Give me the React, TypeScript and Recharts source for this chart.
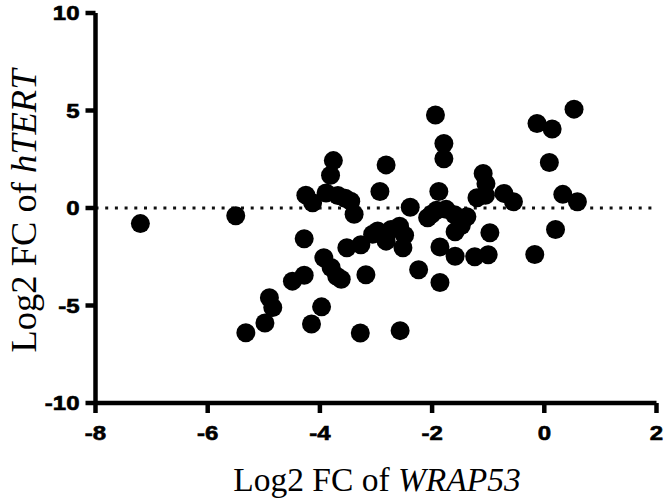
import React from 'react';
import { ScatterChart, Scatter, XAxis, YAxis, ReferenceLine, Label } from 'recharts';

const xTicks = [-8, -6, -4, -2, 0, 2];
const yTicks = [-10, -5, 0, 5, 10];

const wrap53 = [
  -7.2, -5.5, -5.32, -4.98, -4.9, -4.84, -4.49, -4.28, -4.28, -4.25,
  -4.13, -4.15, -3.97, -3.93, -3.8, -3.7, -3.62, -3.89, -3.76, -3.81,
  -3.68, -3.55, -3.45, -3.39, -3.52, -3.28, -3.18, -3.27, -3.06, -2.97,
  -2.82, -2.82, -2.93, -2.73, -2.58, -2.49, -2.52, -2.39, -2.57, -2.24,
  -2.08, -1.94, -1.79, -1.79, -1.88, -2.01, -1.92, -1.75, -1.6, -1.38,
  -1.48, -1.59, -1.86, -1.59, -1.24, -1.0, -0.97, -1.86, -1.2, -1.05,
  -1.04, -1.09, -0.72, -0.55, -0.13, 0.14, 0.53, 0.09, 0.33, 0.59,
  0.2, -0.17,
];
const hTERT = [
  -0.8, -0.4, -6.4, -5.9, -4.6, -5.1, -3.75, -3.45, -1.58, 0.66,
  0.27, -5.95, -5.07, -2.55, -3.05, -3.5, -3.65, 0.77, 2.43, 1.68,
  0.64, 0.5, 0.35, -0.32, -2.04, -6.41, -3.42, -1.88, -1.35, -1.18,
  -1.7, 2.21, 0.85, -1.1, -0.93, -1.4, -2.04, 0.04, -6.29, -3.17,
  -0.5, 4.77, 3.31, 2.53, 0.85, -0.32, -0.12, -0.07, -0.35, -0.45,
  -0.9, -1.22, -2.0, -2.47, -2.5, -2.4, -1.27, -3.82, 0.53, 0.65,
  1.25, 1.77, 0.75, 0.32, 4.33, 4.05, 5.07, 2.33, 0.7, 0.32,
  -1.1, -2.38,
];

const data = wrap53.map((x, i) => ({ x, y: hTERT[i] }));

const tickFont = "'Liberation Sans', Arial, sans-serif";
const titleFont = "'Liberation Serif', 'Times New Roman', serif";

const XTick = (props: any) => {
  const { x, y, payload } = props;
  return (
    <g transform={`translate(${x},${y}) scale(1.2,1)`}>
      <text x={0} y={0} dy="0.36em" textAnchor="middle" fontFamily={tickFont} fontWeight="bold" fontSize={20} fill="#000" stroke="#000" strokeWidth={0.6}>
        {payload.value}
      </text>
    </g>
  );
};

const YTick = (props: any) => {
  const { x, y, payload } = props;
  return (
    <g transform={`translate(${x},${y}) scale(1.2,1)`}>
      <text x={0} y={0} dy="0.36em" textAnchor="end" fontFamily={tickFont} fontWeight="bold" fontSize={20} fill="#000" stroke="#000" strokeWidth={0.6}>
        {payload.value}
      </text>
    </g>
  );
};

const XTitle = (props: any) => {
  const vb = props.viewBox || { x: 95.5, y: 403, width: 561, height: 97 };
  return (
    <text x={vb.x + vb.width / 2 + 1} y={vb.y + 88} textAnchor="middle" fontFamily={titleFont} fontSize={33.5} fill="#000" style={{ whiteSpace: 'pre' }}>
      <tspan>Log2 FC of </tspan>
      <tspan fontStyle="italic">WRAP53</tspan>
    </text>
  );
};

const YTitle = (props: any) => {
  const vb = props.viewBox || { x: 0, y: 13, width: 95.5, height: 390 };
  const cx = 36;
  const cy = vb.y + vb.height / 2 + 3;
  return (
    <text x={cx} y={cy} transform={`rotate(-90, ${cx}, ${cy})`} textAnchor="middle" fontFamily={titleFont} fontSize={36.5} fill="#000" style={{ whiteSpace: 'pre' }}>
      <tspan>Log2 FC of </tspan>
      <tspan fontStyle="italic">hTERT</tspan>
    </text>
  );
};

const Dot = (props: any) => {
  const { cx, cy } = props;
  return <circle cx={cx} cy={cy} r={9.5} fill="#000" />;
};

export default function App() {
  return (
    <div style={{ position: 'absolute', left: 0, top: 0, background: '#fff' }}>
      <ScatterChart width={665} height={500} margin={{ top: 13, right: 8.5, bottom: 0, left: 0 }}>
        <XAxis
          type="number"
          dataKey="x"
          domain={[-8, 2]}
          ticks={xTicks}
          interval={0}
          allowDataOverflow
          height={97}
          axisLine={{ stroke: '#000', strokeWidth: 4.5 }}
          tickLine={{ stroke: '#000', strokeWidth: 4.5 }}
          tickSize={10}
          tickMargin={20}
          tick={<XTick />}
        >
          <Label content={<XTitle />} />
        </XAxis>
        <YAxis
          type="number"
          dataKey="y"
          domain={[-10, 10]}
          ticks={yTicks}
          interval={0}
          allowDataOverflow
          width={95.5}
          axisLine={{ stroke: '#000', strokeWidth: 4.5 }}
          tickLine={{ stroke: '#000', strokeWidth: 4.5 }}
          tickSize={10}
          tickMargin={6}
          tick={<YTick />}
        >
          <Label content={<YTitle />} />
        </YAxis>
        <ReferenceLine y={0} stroke="#111" strokeWidth={3} strokeDasharray="3 6.7" />
        <Scatter data={data} fill="#000" shape={<Dot />} isAnimationActive={false} />
      </ScatterChart>
    </div>
  );
}
